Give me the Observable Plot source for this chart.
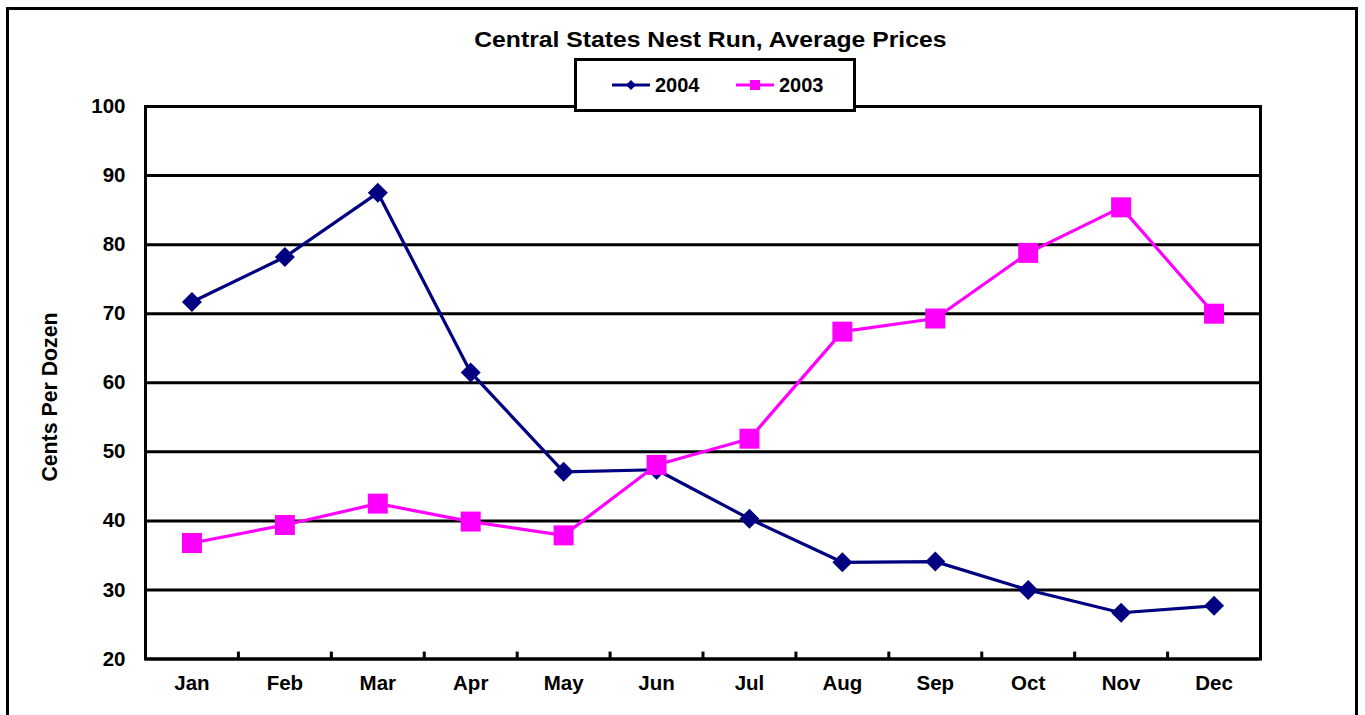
<!DOCTYPE html>
<html>
<head>
<meta charset="utf-8">
<script src="https://cdn.jsdelivr.net/npm/d3@7"></script>
<script src="https://cdn.jsdelivr.net/npm/@observablehq/plot@0.6"></script>
<style>
  html, body { margin: 0; padding: 0; background: #fff; }
  #wrap { position: relative; width: 1365px; height: 715px; overflow: hidden; font-family: "Liberation Sans", Arial, sans-serif; font-weight: bold; color: #000; }
  #border { position: absolute; left: 6px; top: 7px; width: 1352px; height: 740px; border: 3px solid #000; box-sizing: border-box; }
  #chart { position: absolute; left: 0; top: 0; }
  #title { position: absolute; left: 0; width: 1365px; top: 26px; text-align: center; font-size: 21.5px; line-height: 28px; }
  #title span { display: inline-block; transform: scaleX(1.15); margin-left: 55px; }
  #legend { position: absolute; left: 574px; top: 58px; width: 282px; height: 54px; border: 3px solid #000; box-sizing: border-box; background: #fff; }
  #legend .item { position: absolute; top: 11px; height: 26px; display: flex; align-items: center; font-size: 20px; }
  #ylabel { position: absolute; left: 50px; top: 397px; transform: translate(-50%, -50%) rotate(-90deg); font-size: 21.3px; white-space: nowrap; }
</style>
</head>
<body>
<div id="wrap">
  <div id="border"></div>
  <div id="chart"></div>
  <div id="title"><span></span></div>
  <div id="legend"></div>
  <div id="ylabel"></div>
</div>
<script>
// ---- data ----
const title = "Central States Nest Run, Average Prices";
const yLabel = "Cents Per Dozen";
const months = ["Jan","Feb","Mar","Apr","May","Jun","Jul","Aug","Sep","Oct","Nov","Dec"];
const series = ["2004", "2003"];
const values2004 = [71.7, 78.2, 87.5, 61.5, 47.1, 47.4, 40.3, 34.0, 34.1, 30.0, 26.7, 27.7];
const values2003 = [36.8, 39.4, 42.5, 39.9, 37.9, 48.1, 51.9, 67.4, 69.3, 78.8, 85.4, 70.0];
const yTicks = [20, 30, 40, 50, 60, 70, 80, 90, 100];
const colors = {"2004": "#000080", "2003": "#FF00FF"};

// ---- build ----
const rows2004 = months.map((m, i) => ({i, month: m, value: values2004[i]}));
const rows2003 = months.map((m, i) => ({i, month: m, value: values2003[i]}));
const boundaries = months.slice(1).map((m, i) => i + 0.5);

const diamond = {
  draw(ctx, size) {
    const r = Math.sqrt(size / Math.PI);
    ctx.moveTo(0, -r); ctx.lineTo(r, 0); ctx.lineTo(0, r); ctx.lineTo(-r, 0); ctx.closePath();
  }
};
const square = {
  draw(ctx, size) {
    const r = Math.sqrt(size / Math.PI);
    ctx.moveTo(-r, -r); ctx.lineTo(r, -r); ctx.lineTo(r, r); ctx.lineTo(-r, r); ctx.closePath();
  }
};

const plot = Plot.plot({
  width: 1365,
  height: 715,
  marginLeft: 145,
  marginRight: 105,
  marginTop: 106,
  marginBottom: 56.5,
  style: {fontFamily: '"Liberation Sans", Arial, sans-serif', fontWeight: "bold", fontSize: "20.5px", background: "transparent", overflow: "visible", color: "#000"},
  x: {type: "linear", domain: [-0.5, months.length - 0.5], axis: null},
  y: {domain: [20, 100], axis: null},
  marks: [
    Plot.ruleY(yTicks, {stroke: "#000", strokeWidth: 3}),
    Plot.ruleX(boundaries, {y1: 20, y2: 21, stroke: "#000", strokeWidth: 3}),
    Plot.frame({stroke: "#000", strokeWidth: 3}),
    Plot.axisY({ticks: yTicks, tickSize: 0, tickPadding: 20, fontSize: 20.5, label: null}),
    Plot.axisX({ticks: months.map((m, i) => i), tickFormat: i => months[i], tickSize: 0, tickPadding: 16.5, fontSize: 20.5, label: null}),
    Plot.line(rows2004, {x: "i", y: "value", stroke: colors["2004"], strokeWidth: 3.2}),
    Plot.dot(rows2004, {x: "i", y: "value", symbol: diamond, r: 10, fill: colors["2004"], stroke: "none"}),
    Plot.line(rows2003, {x: "i", y: "value", stroke: colors["2003"], strokeWidth: 3.2}),
    Plot.dot(rows2003, {x: "i", y: "value", symbol: square, r: 10, fill: colors["2003"], stroke: "none"})
  ]
});
document.getElementById("chart").appendChild(plot);

document.querySelector("#title span").textContent = title;
document.getElementById("ylabel").textContent = yLabel;

// legend
const legend = document.getElementById("legend");
const legendX = {"2004": 35, "2003": 159};
series.forEach(s => {
  const item = document.createElement("div");
  item.className = "item";
  item.style.left = legendX[s] + "px";
  const ns = "http://www.w3.org/2000/svg";
  const svg = document.createElementNS(ns, "svg");
  svg.setAttribute("width", 40); svg.setAttribute("height", 26);
  const line = document.createElementNS(ns, "line");
  line.setAttribute("x1", 0); line.setAttribute("x2", 38); line.setAttribute("y1", 13); line.setAttribute("y2", 13);
  line.setAttribute("stroke", colors[s]); line.setAttribute("stroke-width", 3);
  svg.appendChild(line);
  const mk = document.createElementNS(ns, "path");
  mk.setAttribute("d", s === "2004" ? "M19,8L24,13L19,18L14,13Z" : "M14,8H24V18H14Z");
  mk.setAttribute("fill", colors[s]);
  svg.appendChild(mk);
  item.appendChild(svg);
  const t = document.createElement("span");
  t.textContent = s;
  t.style.marginLeft = "3px";
  item.appendChild(t);
  legend.appendChild(item);
});
</script>
</body>
</html>
